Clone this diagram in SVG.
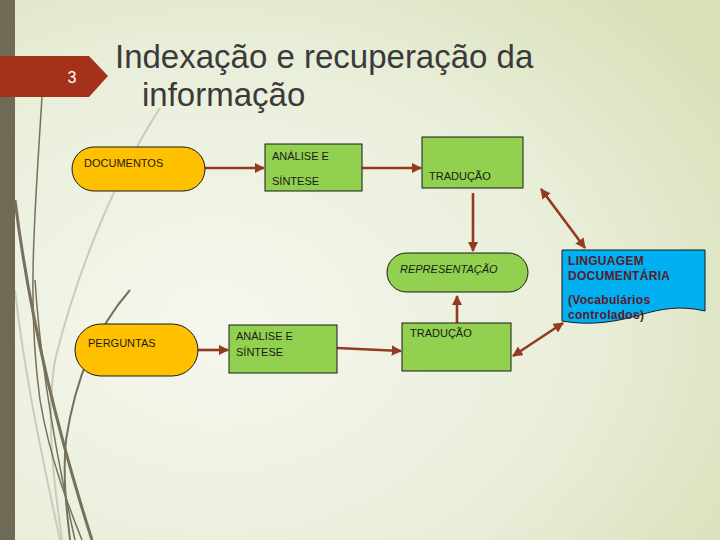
<svg xmlns="http://www.w3.org/2000/svg" width="720" height="540" viewBox="0 0 720 540">
<defs>
<radialGradient id="bg" cx="0.3" cy="0.6" r="0.85">
<stop offset="0" stop-color="#f5f7ee"/>
<stop offset="0.6" stop-color="#e9eed9"/>
<stop offset="1" stop-color="#d7e0b8"/>
</radialGradient>
<marker id="ah" viewBox="0 0 10 10" refX="9" refY="5" markerWidth="4" markerHeight="4" orient="auto-start-reverse" markerUnits="strokeWidth">
<path d="M0,0 L10,5 L0,10 z" fill="#943a1f"/>
</marker>
<style>
.box{stroke:#1a1a1a;stroke-width:1}
.y{fill:#ffc000}
.g{fill:#92d050}
.t{font-family:"Liberation Sans",Arial,sans-serif;font-size:11px;fill:#1a1a1a}
.c{stroke:#943a1f;stroke-width:2.6;fill:none}
.deco{fill:none;stroke:#77705a}
.lt{fill:none;stroke:#c9ccba}
.b{font-family:"Liberation Sans",Arial,sans-serif;font-size:12px;font-weight:bold;fill:#5a1a2a;letter-spacing:0.3px}
</style>
</defs>
<rect width="720" height="540" fill="url(#bg)"/>
<g id="decor">
<path class="lt" stroke-width="2" d="M160,108 C120,170 80,260 55,360 C45,420 55,490 62,540"/>
<path class="lt" stroke-width="2" d="M15,290 C25,380 45,470 60,540"/>
<path class="deco" stroke-width="1.5" d="M42,96 C36,200 26,300 40,400 C50,460 70,510 82,540"/>
<path class="deco" stroke-width="3" d="M15,200 C30,320 60,440 92,540"/>
<path class="deco" stroke-width="2" d="M130,290 C95,330 75,380 66,440 C62,480 68,520 70,540"/>
<path class="deco" stroke-width="1.5" d="M35,280 C40,360 55,450 75,540"/>
</g>
<rect x="0" y="0" width="15" height="540" fill="#6f6a55"/>
<g id="tab">
<path d="M0,56 L89,56 L108,76 L89,97 L0,97 z" fill="#a5311a"/>
<text x="72" y="83" font-family="Liberation Sans,Arial,sans-serif" font-size="16" fill="#ffffff" text-anchor="middle">3</text>
</g>
<g id="title" font-family="Liberation Sans,Arial,sans-serif" font-size="33" fill="#3a3a3a">
<text x="115" y="68">Indexação e recuperação da</text>
<text x="142" y="106">informação</text>
</g>
<g id="connectors">
<line class="c" x1="205" y1="168" x2="264" y2="168" marker-end="url(#ah)"/>
<line class="c" x1="362" y1="168" x2="421" y2="168" marker-end="url(#ah)"/>
<line class="c" x1="473" y1="193" x2="473" y2="251" marker-end="url(#ah)"/>
<line class="c" x1="457" y1="323" x2="457" y2="296" marker-end="url(#ah)"/>
<line class="c" x1="198" y1="350" x2="228" y2="350" marker-end="url(#ah)"/>
<line class="c" x1="337" y1="348" x2="401" y2="351" marker-end="url(#ah)"/>
<line class="c" x1="541" y1="189" x2="585" y2="248" marker-start="url(#ah)" marker-end="url(#ah)"/>
<line class="c" x1="513" y1="356" x2="563" y2="323" marker-start="url(#ah)" marker-end="url(#ah)"/>
</g>
<g id="documentos">
<rect class="box y" x="72" y="147" width="133" height="44" rx="22"/>
<text class="t" x="84" y="167">DOCUMENTOS</text>
</g>
<g id="analise1">
<rect class="box g" x="265" y="144" width="97" height="47"/>
<text class="t" x="272" y="160">ANÁLISE E</text>
<text class="t" x="272" y="185">SÍNTESE</text>
</g>
<g id="traducao1">
<rect class="box g" x="422" y="137" width="101" height="51"/>
<text class="t" x="429" y="180">TRADUÇÃO</text>
</g>
<g id="representacao">
<rect class="box g" x="387" y="253" width="141" height="39" rx="19.5"/>
<text class="t" x="400" y="273" font-style="italic">REPRESENTAÇÃO</text>
</g>
<g id="perguntas">
<rect class="box y" x="75" y="324" width="123" height="52" rx="26"/>
<text class="t" x="88" y="347">PERGUNTAS</text>
</g>
<g id="analise2">
<rect class="box g" x="229" y="325" width="108" height="48"/>
<text class="t" x="236" y="340">ANÁLISE E</text>
<text class="t" x="236" y="356">SÍNTESE</text>
</g>
<g id="traducao2">
<rect class="box g" x="402" y="323" width="109" height="48"/>
<text class="t" x="410" y="337">TRADUÇÃO</text>
</g>
<g id="linguagem">
<path class="box" fill="#00b0f0" d="M562,250 L705,250 L705,311 C680,305 660,309 640,315 C615,322 590,326 562,321 z"/>
<text class="b" x="568" y="265">LINGUAGEM</text>
<text class="b" x="568" y="280">DOCUMENTÁRIA</text>
<text class="b" x="568" y="304">(Vocabulários</text>
<text class="b" x="568" y="319">controlados)</text>
</g>
</svg>
